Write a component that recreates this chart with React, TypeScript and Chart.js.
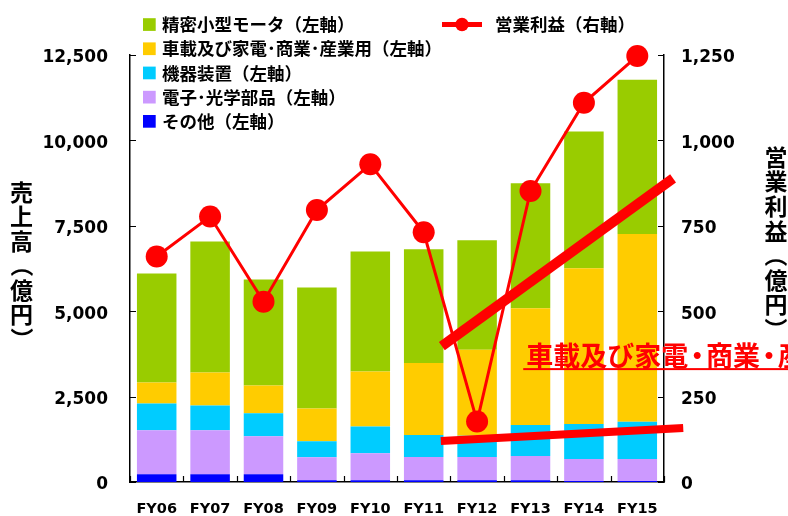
import React, { useEffect, useRef } from 'react';
import { Chart, registerables } from 'chart.js';

Chart.register(...registerables);

// ---------- data ----------
const categories = ['FY06', 'FY07', 'FY08', 'FY09', 'FY10', 'FY11', 'FY12', 'FY13', 'FY14', 'FY15'];

const seriesLabels = [
  'その他（左軸）',
  '電子･光学部品（左軸）',
  '機器装置（左軸）',
  '車載及び家電･商業･産業用（左軸）',
  '精密小型モータ（左軸）',
];
const lineLabel = '営業利益（右軸）';

const other = [225, 225, 225, 50, 50, 50, 50, 50, 30, 30];
const electronicOptical = [1287, 1287, 1112, 672, 789, 681, 681, 710, 642, 642];
const machinery = [789, 731, 672, 468, 789, 643, 623, 907, 1024, 1091];
const automotiveAppliance = [614, 964, 818, 965, 1609, 2106, 2516, 3421, 4561, 5497];
const smallMotors = [3187, 3831, 3100, 3538, 3508, 3333, 3206, 3655, 4006, 4515];
const operatingProfit = [660, 777, 528, 796, 930, 731, 177, 852, 1110, 1247];

const leftTicks = [0, 2500, 5000, 7500, 10000, 12500];
const rightTicks = [0, 250, 500, 750, 1000, 1250];

const leftTitle = '売上高（億円）';
const rightTitle = '営業利益（億円）';

// trend annotations in data units: [category index, left-axis value]
const trendUpper = [[5.34, 3977], [9.67, 8889]];
const trendLower = [[5.32, 1199], [9.86, 1579]];
const calloutText = '車載及び家電・商業・産業用';
const calloutAt = [6.92, 3700];

// ---------- styles ----------
const barColors = ['#0000FF', '#CC99FF', '#00CCFF', '#FFCC00', '#99CC00'];
const RED = '#FF0000';
const FONT_CJK = '"Noto Sans CJK JP", "Noto Sans CJK SC", "Noto Sans", sans-serif';
const FONT_NUM = '"DejaVu Sans", Verdana, sans-serif';

function drawVertical(ctx: CanvasRenderingContext2D, text: string, cx: number, top: number, pitch: number) {
  const chars = Array.from(text);
  chars.forEach((ch, i) => {
    const cy = top + i * pitch;
    ctx.save();
    ctx.translate(cx, cy);
    if (ch === '（' || ch === '）' || ch === '(' || ch === ')') ctx.rotate(Math.PI / 2);
    ctx.textAlign = 'center';
    ctx.textBaseline = 'middle';
    ctx.fillText(ch, 0, 0);
    ctx.restore();
  });
}

// draws text with narrower middle dots; returns total width
function drawCondensed(ctx: CanvasRenderingContext2D, text: string, x: number, y: number, size: number) {
  let cx = x;
  Array.from(text).forEach((ch) => {
    if (ch === '・') {
      const adv = size * 0.66;
      ctx.textAlign = 'center';
      ctx.fillText(ch, cx + adv / 2, y);
      cx += adv;
    } else {
      ctx.textAlign = 'left';
      ctx.fillText(ch, cx, y);
      cx += ctx.measureText(ch).width;
    }
  });
  ctx.textAlign = 'left';
  return cx - x;
}

const overlayPlugin = {
  id: 'overlay',
  afterDraw(chart: any) {
    const { ctx, chartArea: ca, scales } = chart;
    const xs = scales.x, ys = scales.y, y1 = scales.y1;
    ctx.save();

    // inward tick marks
    ctx.strokeStyle = '#000';
    ctx.lineWidth = 1.2;
    ctx.beginPath();
    leftTicks.forEach((v) => {
      const py = Math.round(ys.getPixelForValue(v)) + 0.5;
      ctx.moveTo(ca.left, py);
      ctx.lineTo(ca.left + 6, py);
    });
    rightTicks.forEach((v) => {
      const py = Math.round(y1.getPixelForValue(v)) + 0.5;
      ctx.moveTo(ca.right, py);
      ctx.lineTo(ca.right - 6, py);
    });
    for (let i = 0; i <= categories.length; i++) {
      const px = Math.round(xs.getPixelForValue(i - 0.5)) + 0.5;
      ctx.moveTo(px, ca.bottom);
      ctx.lineTo(px, ca.bottom - 6);
    }
    ctx.stroke();

    // trend lines
    ctx.strokeStyle = RED;
    ctx.lineCap = 'butt';
    ([[trendUpper, 10], [trendLower, 8]] as any[]).forEach(([pts, w]) => {
      ctx.lineWidth = w;
      ctx.beginPath();
      ctx.moveTo(xs.getPixelForValue(pts[0][0]), ys.getPixelForValue(pts[0][1]));
      ctx.lineTo(xs.getPixelForValue(pts[1][0]), ys.getPixelForValue(pts[1][1]));
      ctx.stroke();
    });

    // callout text
    const cs = 27;
    ctx.font = `bold ${cs}px ${FONT_CJK}`;
    ctx.fillStyle = RED;
    ctx.textBaseline = 'middle';
    const tx = xs.getPixelForValue(calloutAt[0]);
    const ty = ys.getPixelForValue(calloutAt[1]);
    const tw = drawCondensed(ctx, calloutText, tx, ty, cs);
    ctx.fillRect(tx - 3, ty + 12.5, tw + 3, 2);

    // legend
    ctx.font = `bold 17.5px ${FONT_CJK}`;
    ctx.textBaseline = 'middle';
    ctx.textAlign = 'left';
    const bars = chart.data.datasets.filter((d: any) => d.type === 'bar').slice().reverse();
    bars.forEach((d: any, i: number) => {
      const cy = 24.5 + i * 24.2;
      ctx.fillStyle = d.backgroundColor;
      ctx.fillRect(143, cy - 6.3, 12.7, 12.7);
      ctx.fillStyle = '#000';
      ctx.fillText(d.label, 162, cy);
    });
    const ld = chart.data.datasets.find((d: any) => d.type === 'line');
    ctx.strokeStyle = ld.borderColor;
    ctx.lineWidth = 5;
    ctx.beginPath();
    ctx.moveTo(442, 24.5);
    ctx.lineTo(482, 24.5);
    ctx.stroke();
    ctx.fillStyle = ld.borderColor;
    ctx.beginPath();
    ctx.arc(462, 24.5, 6.7, 0, Math.PI * 2);
    ctx.fill();
    ctx.fillStyle = '#000';
    ctx.fillText(ld.label, 495, 24.5);

    // axis titles (vertical)
    ctx.font = `bold 23px ${FONT_CJK}`;
    ctx.fillStyle = '#000';
    drawVertical(ctx, leftTitle, 21.5, 192, 24.5);
    drawVertical(ctx, rightTitle, 776, 157, 24.6);

    ctx.restore();
  },
};

const fmt = (v: any) => Number(v).toLocaleString('en-US');

export default function App() {
  const ref = useRef<HTMLCanvasElement>(null);

  useEffect(() => {
    if (!ref.current) return;
    const barSeries = [other, electronicOptical, machinery, automotiveAppliance, smallMotors];
    const datasets: any[] = barSeries.map((data, i) => ({
      type: 'bar',
      label: seriesLabels[i],
      data,
      backgroundColor: barColors[i],
      borderWidth: 0,
      yAxisID: 'y',
      stack: 'sales',
      barPercentage: 0.74,
      categoryPercentage: 1,
      order: 2,
    }));
    datasets.push({
      type: 'line',
      label: lineLabel,
      data: operatingProfit,
      borderColor: RED,
      backgroundColor: RED,
      borderWidth: 3,
      pointRadius: 11,
      pointBackgroundColor: RED,
      pointBorderWidth: 0,
      yAxisID: 'y1',
      order: 0,
      clip: false,
      tension: 0,
    });

    const tickFont = { family: FONT_NUM, weight: 'bold' as const, size: 17 };
    const chart = new Chart(ref.current, {
      type: 'bar',
      data: { labels: categories, datasets },
      plugins: [overlayPlugin],
      options: {
        responsive: false,
        animation: false,
        devicePixelRatio: 1,
        layout: { padding: { top: 55, left: 0, right: 0, bottom: 0 } },
        plugins: { legend: { display: false }, tooltip: { enabled: false }, title: { display: false } },
        scales: {
          x: {
            type: 'category',
            stacked: true,
            offset: true,
            grid: { display: false, drawTicks: false },
            border: { display: true, color: '#000', width: 1.5 },
            ticks: {
              font: { family: FONT_NUM, weight: 'bold', size: 14.5 },
              color: '#000',
              padding: 19,
              maxRotation: 0,
              autoSkip: false,
            },
            afterFit: (s: any) => { s.height = 34; },
          },
          y: {
            position: 'left',
            stacked: true,
            min: 0,
            max: 12500,
            afterBuildTicks: (s: any) => { s.ticks = leftTicks.map((v) => ({ value: v })); },
            grid: { display: false, drawTicks: false },
            border: { display: true, color: '#000', width: 1.5 },
            ticks: { font: tickFont, color: '#000', padding: 22, labelOffset: 3, callback: fmt },
            afterFit: (s: any) => { s.width = 130; },
          },
          y1: {
            position: 'right',
            min: 0,
            max: 1250,
            afterBuildTicks: (s: any) => { s.ticks = rightTicks.map((v) => ({ value: v })); },
            grid: { display: false, drawTicks: false },
            border: { display: true, color: '#000', width: 1.5 },
            ticks: { font: tickFont, color: '#000', padding: 17, labelOffset: 3, callback: fmt },
            afterFit: (s: any) => { s.width = 124; },
          },
        },
      } as any,
    });
    return () => chart.destroy();
  }, []);

  return (
    <div style={{ position: 'absolute', left: 0, top: 0, width: 788, height: 516, background: '#fff' }}>
      <canvas ref={ref} width={788} height={516} />
    </div>
  );
}
